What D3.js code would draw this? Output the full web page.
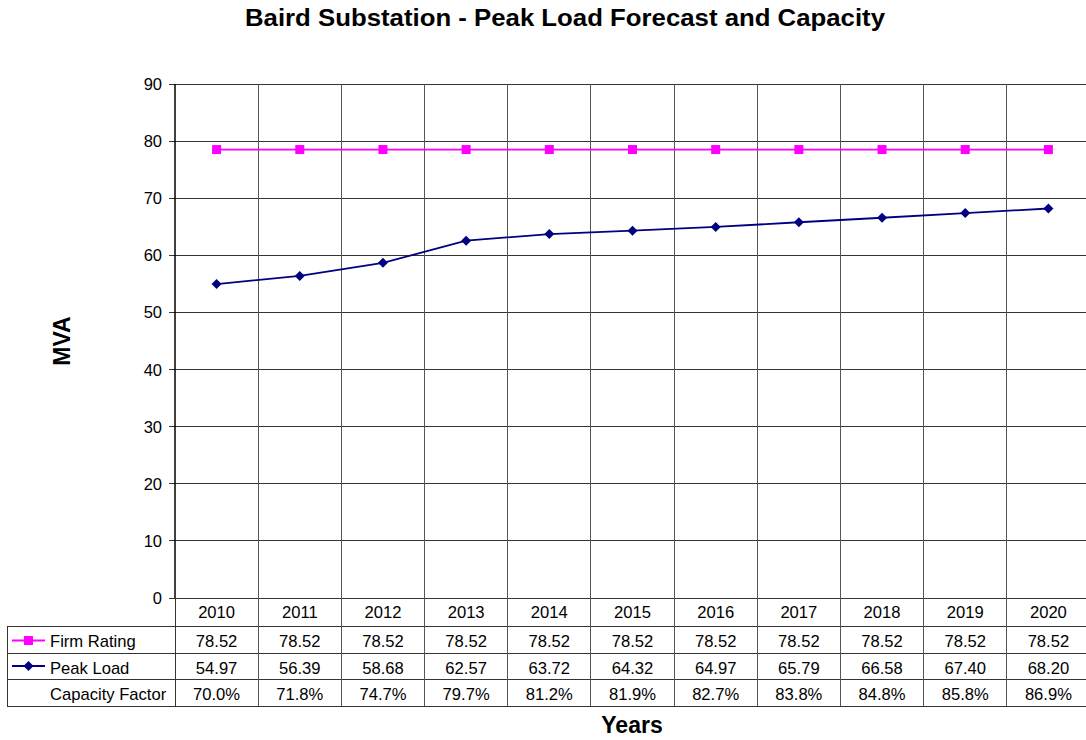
<!DOCTYPE html>
<html><head><meta charset="utf-8">
<script src="https://cdn.jsdelivr.net/npm/d3@7"></script>
<style>body{margin:0;background:#fff;}svg{display:block;font-family:"Liberation Sans",Arial,sans-serif;}</style>
</head><body><svg id="c" width="1086" height="740"></svg>
<script>
const years = ["2010","2011","2012","2013","2014","2015","2016","2017","2018","2019","2020"];
const firmRating = [78.52,78.52,78.52,78.52,78.52,78.52,78.52,78.52,78.52,78.52,78.52];
const peakLoad = [54.97,56.39,58.68,62.57,63.72,64.32,64.97,65.79,66.58,67.40,68.20];
const capacityFactor = ["70.0%","71.8%","74.7%","79.7%","81.2%","81.9%","82.7%","83.8%","84.8%","85.8%","86.9%"];
const yTicks = [0,10,20,30,40,50,60,70,80,90];

const svg = d3.select("#c");
const L=175, R=1090, T=84, B=598;
const x = d3.scaleBand().domain(years).range([L,R]);
const y = d3.scaleLinear().domain([0,90]).range([B,T]);

svg.append("text").attr("x",565).attr("y",26).attr("text-anchor","middle")
  .attr("font-size",23).attr("font-weight","bold")
  .attr("textLength",640).attr("lengthAdjust","spacingAndGlyphs")
  .text("Baird Substation - Peak Load Forecast and Capacity");

// grid
svg.append("g").selectAll("line").data(yTicks).join("line")
  .attr("x1",L-6).attr("x2",R).attr("y1",d=>y(d)).attr("y2",d=>y(d))
  .attr("stroke","#333").attr("stroke-width",1).attr("shape-rendering","crispEdges");
svg.append("g").selectAll("line").data(years.slice(1)).join("line")
  .attr("x1",d=>x(d)).attr("x2",d=>x(d)).attr("y1",T).attr("y2",B)
  .attr("stroke","#555").attr("stroke-width",1).attr("shape-rendering","crispEdges");
svg.append("line").attr("x1",L).attr("x2",L).attr("y1",T).attr("y2",B).attr("stroke","#000").attr("stroke-width",1.5);

svg.append("g").selectAll("text").data(yTicks).join("text")
  .attr("x",162).attr("y",d=>y(d)+6).attr("text-anchor","end").attr("font-size",16.5).text(d=>d);

svg.append("text").attr("transform","translate(70,341) rotate(-90)").attr("text-anchor","middle")
  .attr("font-size",23).attr("font-weight","bold").text("MVA");

const cx = d=>x(d)+x.bandwidth()/2;
const line = d3.line().x((d,i)=>cx(years[i])).y(d=>y(d));
svg.append("path").datum(firmRating).attr("d",line).attr("fill","none").attr("stroke","#ff00ff").attr("stroke-width",1.8);
svg.append("path").datum(peakLoad).attr("d",line).attr("fill","none").attr("stroke","#000080").attr("stroke-width",1.8);
svg.append("g").selectAll("rect").data(firmRating).join("rect")
  .attr("x",(d,i)=>cx(years[i])-4.5).attr("y",d=>y(d)-4.5).attr("width",9).attr("height",9).attr("fill","#ff00ff");
svg.append("g").selectAll("path").data(peakLoad).join("path")
  .attr("transform",(d,i)=>`translate(${cx(years[i])},${y(d)}) rotate(45)`)
  .attr("d",d3.symbol().type(d3.symbolSquare).size(50)).attr("fill","#000080");

// table
const rows = [626,653,679,706];
const TL = 7;
const tg = svg.append("g");
tg.selectAll("text.h").data(years).join("text").attr("class","h")
  .attr("x",d=>cx(d)).attr("y",618).attr("text-anchor","middle").attr("font-size",16.6).text(d=>d);
tg.selectAll("line.r").data(rows).join("line").attr("class","r")
  .attr("x1",TL).attr("x2",R).attr("y1",d=>d).attr("y2",d=>d).attr("stroke","#333").attr("shape-rendering","crispEdges");
tg.append("line").attr("x1",TL).attr("x2",TL).attr("y1",rows[0]).attr("y2",rows[3]).attr("stroke","#333").attr("shape-rendering","crispEdges");
tg.append("line").attr("x1",L).attr("x2",L).attr("y1",B).attr("y2",rows[3]).attr("stroke","#333").attr("shape-rendering","crispEdges");
tg.selectAll("line.v").data(years.slice(1)).join("line").attr("class","v")
  .attr("x1",d=>x(d)).attr("x2",d=>x(d)).attr("y1",B).attr("y2",rows[3]).attr("stroke","#555").attr("shape-rendering","crispEdges");

const rowData = [firmRating.map(d=>d.toFixed(2)), peakLoad.map(d=>d.toFixed(2)), capacityFactor];
rowData.forEach((arr,ri)=>{
  const ty = (rows[ri]+rows[ri+1])/2+7.5;
  tg.append("g").selectAll("text").data(arr).join("text")
    .attr("x",(d,i)=>cx(years[i])).attr("y",ty).attr("text-anchor","middle").attr("font-size",16.6).text(d=>d);
});
const labels = ["Firm Rating","Peak Load","Capacity Factor"];
labels.forEach((lab,ri)=>{
  const ty = (rows[ri]+rows[ri+1])/2;
  tg.append("text").attr("x",50).attr("y",ty+7.5).attr("font-size",16.6).text(lab);
});
const ly0=(rows[0]+rows[1])/2+1, ly1=(rows[1]+rows[2])/2;
tg.append("line").attr("x1",12).attr("x2",45).attr("y1",ly0).attr("y2",ly0).attr("stroke","#ff00ff").attr("stroke-width",1.8);
tg.append("rect").attr("x",24).attr("y",ly0-4.5).attr("width",9).attr("height",9).attr("fill","#ff00ff");
tg.append("line").attr("x1",12).attr("x2",45).attr("y1",ly1).attr("y2",ly1).attr("stroke","#000080").attr("stroke-width",1.8);
tg.append("path").attr("transform",`translate(28.5,${ly1}) rotate(45)`).attr("d",d3.symbol().type(d3.symbolSquare).size(50)).attr("fill","#000080");

svg.append("text").attr("x",632).attr("y",733).attr("text-anchor","middle").attr("font-size",23).attr("font-weight","bold").text("Years");
</script></body></html>
